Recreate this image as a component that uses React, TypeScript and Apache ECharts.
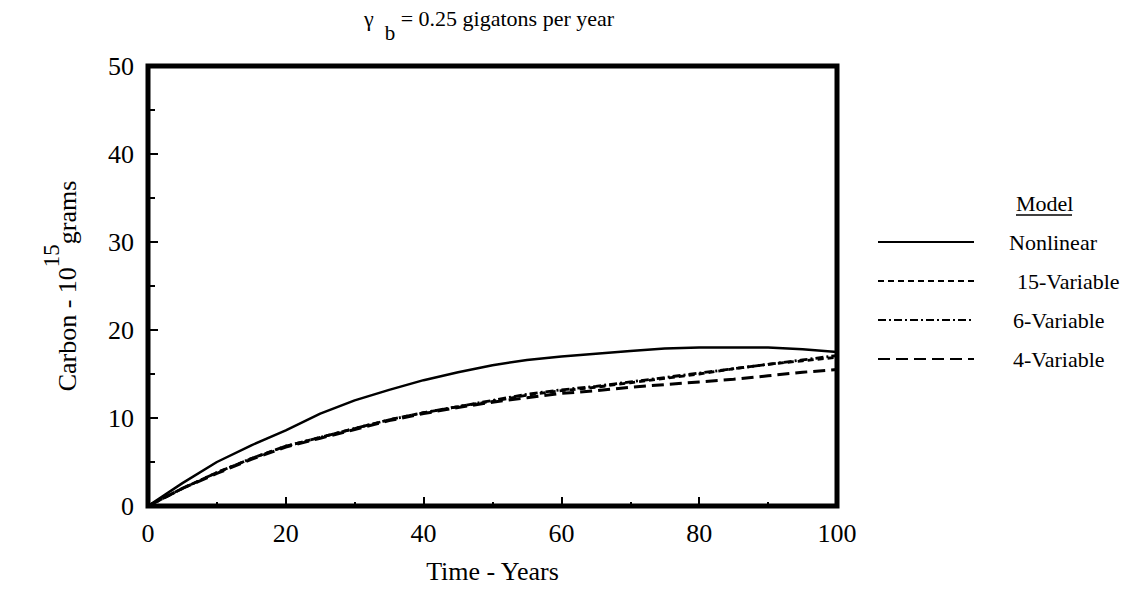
import React, { useEffect, useRef } from "react";
import * as echarts from "echarts";

const years = [0, 5, 10, 15, 20, 25, 30, 35, 40, 45, 50, 55, 60, 65, 70, 75, 80, 85, 90, 95, 100];
const nonlinear = [0, 2.6, 5.0, 6.9, 8.6, 10.5, 12.0, 13.2, 14.3, 15.2, 16.0, 16.6, 17.0, 17.3, 17.6, 17.9, 18.0, 18.0, 18.0, 17.8, 17.5];
const var15 = [0, 2.0, 3.8, 5.4, 6.8, 7.8, 8.8, 9.8, 10.6, 11.3, 11.9, 12.6, 13.1, 13.5, 14.0, 14.5, 15.0, 15.6, 16.1, 16.5, 16.9];
const var6 = [0, 2.0, 3.8, 5.4, 6.8, 7.8, 8.8, 9.8, 10.6, 11.3, 12.0, 12.7, 13.2, 13.6, 14.1, 14.6, 15.1, 15.6, 16.1, 16.6, 17.1];
const var4 = [0, 2.0, 3.7, 5.3, 6.7, 7.7, 8.7, 9.7, 10.5, 11.2, 11.8, 12.3, 12.8, 13.1, 13.5, 13.8, 14.1, 14.4, 14.8, 15.2, 15.5];
const seriesNames = ["Nonlinear", "15-Variable", "6-Variable", "4-Variable"];
const xTicks = [0, 20, 40, 60, 80, 100];
const yTicks = [0, 10, 20, 30, 40, 50];

const FONT = "Liberation Serif";

export default function App() {
  const ref = useRef<HTMLDivElement>(null);
  useEffect(() => {
    const chart = echarts.init(ref.current!, null, { renderer: "svg" });
    const pair = (arr: number[]) => years.map((x, i) => [x, arr[i]]);
    const dashes: any[] = ["solid", [6, 4], [8, 3, 2, 3], [12, 6]];
    const widths = [2.5, 2.8, 2.8, 3];
    const datasets = [nonlinear, var15, var6, var4];
    const legendPad = [30, 38, 34, 34];
    chart.setOption({
      animation: false,
      backgroundColor: "#fff",
      textStyle: { fontFamily: FONT, color: "#000" },
      title: {
        text: "{t|γ  }{s|b}{t| = 0.25 gigatons per year}",
        left: 484,
        textAlign: "center",
        top: 2,
        textStyle: {
          fontFamily: FONT,
          fontSize: 22,
          fontWeight: "normal",
          color: "#000",
          rich: {
            t: { fontFamily: FONT, fontSize: 22, color: "#000", verticalAlign: "top", lineHeight: 22 },
            s: { fontFamily: FONT, fontSize: 21, color: "#000", verticalAlign: "bottom", lineHeight: 36 },
          },
        },
      },
      grid: {
        left: 148,
        right: 304,
        top: 66,
        bottom: 84,
        show: true,
        borderColor: "#000",
        borderWidth: 5,
        backgroundColor: "transparent",
      },
      legend: {
        orient: "vertical",
        left: 872,
        top: 226,
        itemWidth: 96,
        itemHeight: 14,
        itemGap: 17,
        itemStyle: { opacity: 0 },
        data: seriesNames.map((n, i) => ({
          name: n,
          textStyle: { fontFamily: FONT, fontSize: 22, color: "#000", padding: [0, 0, 0, legendPad[i]] },
        })),
        textStyle: { fontFamily: FONT, fontSize: 22, color: "#000" },
      },
      xAxis: {
        type: "value",
        min: 0,
        max: 100,
        interval: 20,
        name: "Time - Years",
        nameLocation: "middle",
        nameGap: 52,
        nameTextStyle: { fontFamily: FONT, fontSize: 26, color: "#000" },
        axisLine: { show: false },
        axisTick: { show: true, inside: true, length: 9, lineStyle: { color: "#000", width: 2 } },
        minorTick: { show: true, splitNumber: 2, length: 4, lineStyle: { color: "#000", width: 2 } },
        splitLine: { show: false },
        axisLabel: {
          fontFamily: FONT,
          fontSize: 26,
          color: "#000",
          margin: 14,
          formatter: (v: number) => (xTicks.includes(v) ? String(v) : ""),
        },
      },
      yAxis: {
        type: "value",
        min: 0,
        max: 50,
        interval: 10,
        name: "{m|Carbon - 10}{p|15}{m|grams}",
        nameLocation: "middle",
        nameRotate: 90,
        nameGap: 68,
        nameTextStyle: {
          fontFamily: FONT,
          fontSize: 26,
          color: "#000",
          rich: {
            m: { fontFamily: FONT, fontSize: 26, color: "#000", verticalAlign: "bottom", lineHeight: 40 },
            p: { fontFamily: FONT, fontSize: 23, color: "#000", verticalAlign: "top", lineHeight: 23 },
          },
        },
        axisLine: { show: false },
        axisTick: { show: true, inside: true, length: 10, lineStyle: { color: "#000", width: 2 } },
        minorTick: { show: true, splitNumber: 2, length: 7, lineStyle: { color: "#000", width: 2 } },
        splitLine: { show: false },
        axisLabel: {
          fontFamily: FONT,
          fontSize: 26,
          color: "#000",
          margin: 14,
          formatter: (v: number) => (yTicks.includes(v) ? String(v) : ""),
        },
      },
      graphic: [
        {
          type: "text",
          left: 1016,
          top: 192,
          style: { text: "Model", fontFamily: FONT, fontSize: 22, fill: "#000" },
        },
        {
          type: "line",
          shape: { x1: 1016, y1: 215, x2: 1072, y2: 215 },
          style: { stroke: "#000", lineWidth: 1.5 },
        },
      ],
      series: datasets.map((d, i) => ({
        name: seriesNames[i],
        type: "line",
        data: pair(d),
        showSymbol: false,
        symbol: "none",
        smooth: false,
        lineStyle: { color: "#000", width: widths[i], type: dashes[i] },
        itemStyle: { color: "#000" },
      })),
    });
    return () => chart.dispose();
  }, []);
  return <div ref={ref} style={{ position: "absolute", left: 0, top: 0, width: 1141, height: 590 }} />;
}
